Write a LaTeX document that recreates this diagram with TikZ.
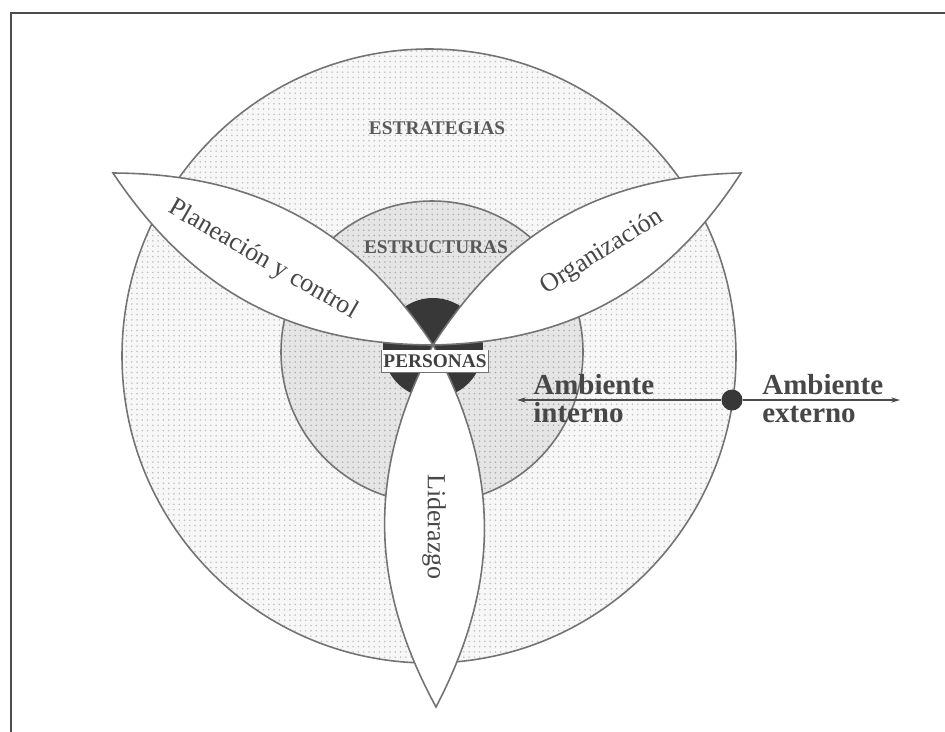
\documentclass[tikz,border=0pt]{standalone}
\usepackage{fontspec}
\setmainfont{Liberation Serif}
\usetikzlibrary{patterns, arrows.meta, positioning}
\colorlet{ringcolor}{black!55}
\colorlet{outerfill}{gray!6}
\colorlet{innerfill}{gray!20}
\colorlet{corecolor}{black!78}
\colorlet{capcolor}{black!65}
\colorlet{labelcolor}{black!72}

\begin{document}
\begin{tikzpicture}[x=0.02cm, y=-0.02cm,
    ring/.style={draw=ringcolor, line width=0.9pt},
    petal/.style={draw=ringcolor, line width=0.9pt, fill=white},
    caplabel/.style={font=\fontsize{11}{11}\selectfont\bfseries, text=capcolor, inner sep=1pt},
    petallabel/.style={font=\fontsize{14.8}{14.8}\selectfont, text=labelcolor},
    envlabel/.style={font=\fontsize{16.5}{16}\selectfont\bfseries, text=labelcolor, align=left, inner sep=0pt, anchor=west}]

    % ===== Frame =====
    \useasboundingbox (0,0) rectangle (945,731);
    \coordinate (frameTL) at (11,13);
    \draw[line width=1.6pt, black!70] (11,745) -- (frameTL) -- (950,13);

    % ===== Rings: estrategias, estructuras, personas =====
    \coordinate (outerc) at (429,356);
    \coordinate (innerc) at (432,352);
    \coordinate (corec) at (433,348);
    \draw[ring, preaction={fill=outerfill}, pattern=dots, pattern color=gray!50] (outerc) circle (307);
    \draw[ring, preaction={fill=innerfill}, pattern=dots, pattern color=gray!65] (innerc) circle (151);
    \fill[corecolor] (corec) circle (50);

    % ===== Petals =====
    \coordinate (hub) at (433,345);
    \coordinate (tipPlan) at (113,173);
    \coordinate (tipOrg) at (741,173);
    \coordinate (tipLid) at (436,707);
    \foreach \tip in {tipPlan, tipOrg, tipLid}
        \draw[petal] (hub) to[bend left=28] (\tip) to[bend left=28] (hub) -- cycle;

    % ===== Ring labels =====
    \node[caplabel] (estrategias) at (437,128) {ESTRATEGIAS};
    \node[caplabel] (estructuras) at (436,247) {ESTRUCTURAS};
    \node[caplabel, text=black!75, fill=white, minimum width=2.08cm, minimum height=0.44cm] (personas) at (435,361) {PERSONAS};
    \draw[ringcolor, line width=0.6pt] (personas.north west) -- (personas.south west) -- (personas.south east) -- (personas.north east);

    % ===== Petal labels =====
    \node[petallabel, rotate=-30] (planeacion) at (263,260) {Planeación y control};
    \node[petallabel, rotate=32] (organizacion) at (602,252) {Organización};
    \node[petallabel, rotate=-90] (liderazgo) at (434,527) {Liderazgo};

    % ===== Internal / external environment =====
    \coordinate (envL) at (517,400);
    \coordinate (envR) at (900,400);
    \node[circle, fill=corecolor, minimum size=0.42cm, inner sep=0pt] (border) at (732,400) {};
    \draw[-{Stealth[length=5pt, width=3pt]}, line width=0.7pt, black!70] (border) -- (envL);
    \draw[-{Stealth[length=5pt, width=3pt]}, line width=0.7pt, black!70] (border) -- (envR);
    \node[envlabel] (ambInt) at (533,399) {Ambiente\\interno};
    \node[envlabel] (ambExt) at (762,399) {Ambiente\\externo};

\end{tikzpicture}
\end{document}
